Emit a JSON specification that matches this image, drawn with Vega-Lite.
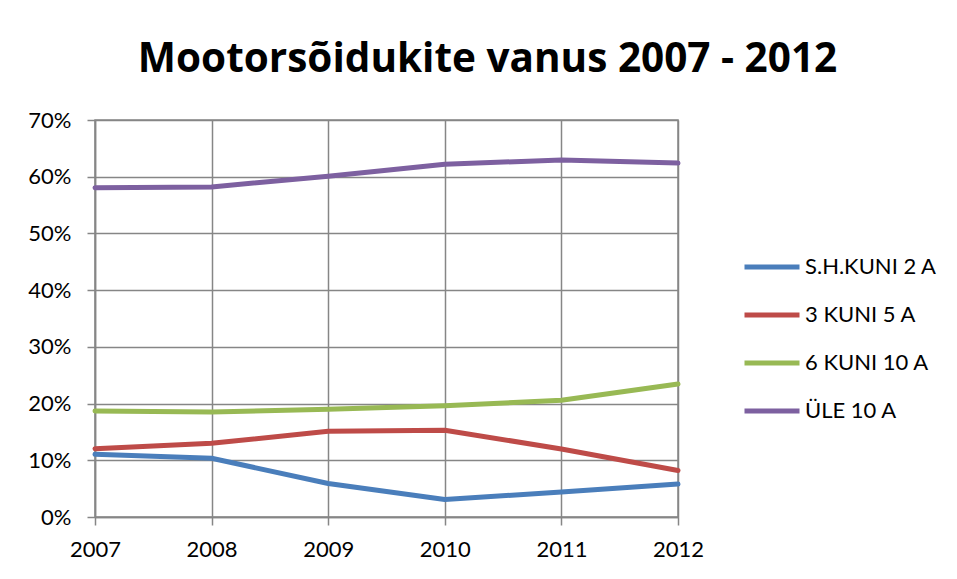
{
  "$schema": "https://vega.github.io/schema/vega-lite/v6.json",
  "width": 583,
  "height": 397,
  "autosize": "none",
  "padding": {"left": 95, "top": 120, "right": 279, "bottom": 62},
  "background": "white",
  "config": {
    "font": "Lato",
    "view": {"stroke": "#868686", "strokeWidth": 1.5}
  },
  "title": {
    "text": "Mootorsõidukite vanus 2007 - 2012",
    "font": "Open Sans",
    "fontSize": 40.5,
    "fontWeight": "bold",
    "color": "black",
    "anchor": "middle",
    "dx": 101,
    "baseline": "alphabetic",
    "offset": -3
  },
  "data": {
    "values": [
      {"year": 2007, "series": "S.H.KUNI 2 A", "value": 0.1105},
      {"year": 2008, "series": "S.H.KUNI 2 A", "value": 0.1035},
      {"year": 2009, "series": "S.H.KUNI 2 A", "value": 0.059},
      {"year": 2010, "series": "S.H.KUNI 2 A", "value": 0.031},
      {"year": 2011, "series": "S.H.KUNI 2 A", "value": 0.044},
      {"year": 2012, "series": "S.H.KUNI 2 A", "value": 0.058},
      {"year": 2007, "series": "3 KUNI 5 A", "value": 0.1205},
      {"year": 2008, "series": "3 KUNI 5 A", "value": 0.130},
      {"year": 2009, "series": "3 KUNI 5 A", "value": 0.151},
      {"year": 2010, "series": "3 KUNI 5 A", "value": 0.153},
      {"year": 2011, "series": "3 KUNI 5 A", "value": 0.120},
      {"year": 2012, "series": "3 KUNI 5 A", "value": 0.082},
      {"year": 2007, "series": "6 KUNI 10 A", "value": 0.187},
      {"year": 2008, "series": "6 KUNI 10 A", "value": 0.185},
      {"year": 2009, "series": "6 KUNI 10 A", "value": 0.190},
      {"year": 2010, "series": "6 KUNI 10 A", "value": 0.196},
      {"year": 2011, "series": "6 KUNI 10 A", "value": 0.206},
      {"year": 2012, "series": "6 KUNI 10 A", "value": 0.2345},
      {"year": 2007, "series": "ÜLE 10 A", "value": 0.5805},
      {"year": 2008, "series": "ÜLE 10 A", "value": 0.582},
      {"year": 2009, "series": "ÜLE 10 A", "value": 0.601},
      {"year": 2010, "series": "ÜLE 10 A", "value": 0.622},
      {"year": 2011, "series": "ÜLE 10 A", "value": 0.6295},
      {"year": 2012, "series": "ÜLE 10 A", "value": 0.624}
    ]
  },
  "mark": {"type": "line", "strokeWidth": 5, "strokeCap": "round", "strokeJoin": "round"},
  "encoding": {
    "x": {
      "field": "year",
      "type": "quantitative",
      "scale": {"domain": [2007, 2012], "nice": false, "zero": false},
      "axis": {
        "title": null,
        "values": [2007, 2008, 2009, 2010, 2011, 2012],
        "format": "d",
        "grid": true,
        "gridColor": "#868686",
        "gridWidth": 1.5,
        "domainColor": "#868686",
        "domainWidth": 1.5,
        "tickColor": "#868686",
        "tickWidth": 1.5,
        "tickSize": 8,
        "labelFontSize": 22,
        "labelColor": "black",
        "labelPadding": 14,
        "labelFlush": false
      }
    },
    "y": {
      "field": "value",
      "type": "quantitative",
      "scale": {"domain": [0, 0.7], "nice": false},
      "axis": {
        "title": null,
        "values": [0, 0.1, 0.2, 0.3, 0.4, 0.5, 0.6, 0.7],
        "format": ".0%",
        "grid": true,
        "gridColor": "#868686",
        "gridWidth": 1.5,
        "domainColor": "#868686",
        "domainWidth": 1.5,
        "tickColor": "#868686",
        "tickWidth": 1.5,
        "tickSize": 8,
        "labelFontSize": 22,
        "labelColor": "black",
        "labelPadding": 16
      }
    },
    "color": {
      "field": "series",
      "type": "nominal",
      "sort": ["S.H.KUNI 2 A", "3 KUNI 5 A", "6 KUNI 10 A", "ÜLE 10 A"],
      "scale": {
        "domain": ["S.H.KUNI 2 A", "3 KUNI 5 A", "6 KUNI 10 A", "ÜLE 10 A"],
        "range": ["#4a7ebb", "#be4b48", "#98b954", "#7d60a0"]
      },
      "legend": {
        "title": null,
        "orient": "none",
        "legendX": 647,
        "legendY": 117,
        "symbolType": "stroke",
        "symbolSize": 3025,
        "symbolStrokeWidth": 5,
        "labelFontSize": 22,
        "labelColor": "black",
        "labelOffset": 3,
        "rowPadding": 7,
        "labelLimit": 300
      }
    }
  }
}
